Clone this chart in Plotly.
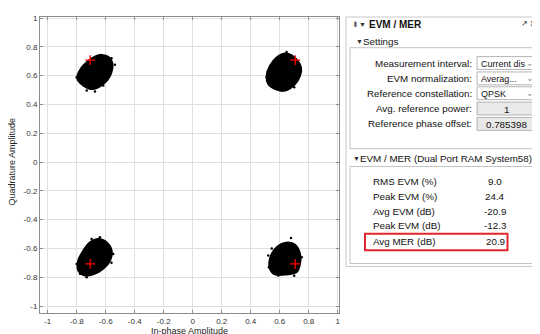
import plotly.graph_objects as go

# ---------------- data ----------------
tick_vals = [-1, -0.8, -0.6, -0.4, -0.2, 0, 0.2, 0.4, 0.6, 0.8, 1]
tick_text = ["-1", "-0.8", "-0.6", "-0.4", "-0.2", "0", "0.2", "0.4", "0.6", "0.8", "1"]

# outlines of the dense symbol clouds (in-phase, quadrature)
tl_i = [-0.628, -0.575, -0.554, -0.570, -0.617, -0.686, -0.754, -0.796, -0.766, -0.720, -0.674]
tl_q = [0.744, 0.725, 0.686, 0.599, 0.542, 0.507, 0.531, 0.581, 0.656, 0.702, 0.732]
tr_i = [0.634, 0.683, 0.724, 0.747, 0.740, 0.706, 0.637, 0.579, 0.521, 0.510, 0.533, 0.579]
tr_q = [0.753, 0.741, 0.702, 0.656, 0.599, 0.542, 0.496, 0.503, 0.542, 0.599, 0.668, 0.725]
bl_i = [-0.651, -0.593, -0.559, -0.570, -0.617, -0.686, -0.743, -0.789, -0.789, -0.754, -0.708]
bl_q = [-0.535, -0.558, -0.615, -0.684, -0.741, -0.780, -0.787, -0.753, -0.684, -0.615, -0.558]
br_i = [0.659, 0.706, 0.740, 0.740, 0.717, 0.648, 0.568, 0.533, 0.533, 0.568, 0.614]
br_q = [-0.558, -0.574, -0.638, -0.707, -0.764, -0.780, -0.780, -0.741, -0.672, -0.603, -0.569]

# stray symbols around the clouds
stray_i = [-0.536, -0.800, -0.731, -0.674, -0.777, -0.617, -0.560, -0.700,
           0.510, 0.533, 0.747, 0.648, 0.614, 0.520, 0.700,
           -0.800, -0.697, -0.548, -0.731, -0.777, -0.640, -0.560,
           0.678, 0.521, 0.752, 0.526, 0.590, 0.545, 0.700]
stray_q = [0.675, 0.588, 0.496, 0.489, 0.558, 0.531, 0.720, 0.515,
           0.588, 0.535, 0.634, 0.764, 0.496, 0.630, 0.520,
           -0.707, -0.535, -0.638, -0.799, -0.775, -0.522, -0.700,
           -0.528, -0.649, -0.661, -0.730, -0.787, -0.600, -0.790]

# reference constellation (QPSK, phase offset 0.785398)
ref_i = [-0.707, 0.707, -0.707, 0.707]
ref_q = [0.707, 0.707, -0.707, -0.707]

settings_labels = ["Measurement interval:", "EVM normalization:", "Reference constellation:",
                   "Avg. reference power:", "Reference phase offset:"]
settings_values = ["Current dis", "Averag...", "QPSK", "1", "0.785398"]
settings_kind = ["drop", "drop", "drop", "edit", "edit"]

result_labels = ["RMS EVM (%)", "Peak EVM (%)", "Avg EVM (dB)", "Peak EVM (dB)", "Avg MER (dB)"]
result_values = ["9.0", "24.4", "-20.9", "-12.3", "20.9"]

# ---------------- figure ----------------
OFF = 8                     # page margin around the plot div
W, H = 540 - OFF, 334 - OFF
# plot area, in screen pixels
SL, SR, ST, SB = 40, 339, 14, 313
L, R, T, B = SL - OFF, SR - OFF, ST - OFF, SB - OFF


def px(x):
    return (x - SL) / (SR - SL)


def py(y):
    return (SB - y) / (SB - ST)


fig = go.Figure()
for ci, cq in [(tl_i, tl_q), (tr_i, tr_q), (bl_i, bl_q), (br_i, br_q)]:
    fig.add_trace(go.Scatter(x=ci + [ci[0]], y=cq + [cq[0]], mode="lines", fill="toself",
                             fillcolor="black", line=dict(color="black", width=2),
                             line_shape="spline", hoverinfo="skip", showlegend=False))
fig.add_trace(go.Scatter(x=stray_i, y=stray_q, mode="markers",
                         marker=dict(color="black", size=2.5), showlegend=False))
fig.add_trace(go.Scatter(x=ref_i, y=ref_q, mode="markers",
                         marker=dict(symbol="cross-thin", size=7, line=dict(color="red", width=1.3)),
                         showlegend=False))

axis_common = dict(tickvals=tick_vals, ticktext=tick_text, showgrid=True, gridcolor="#e0e0e0",
                   gridwidth=1, zeroline=False, showline=True, linecolor="#8c8c8c", linewidth=1,
                   mirror="ticks", ticks="inside", ticklen=3, tickcolor="#8c8c8c",
                   tickfont=dict(family="Liberation Sans, Arial", size=8, color="#333333"))
fig.update_xaxes(range=[-1.053, 1.009], **axis_common)
fig.update_yaxes(range=[-1.048, 1.007], **axis_common)

shapes = []
ann = []
FONT = "Liberation Sans, Arial"
FS = 9.8


def rect(x0, y0, x1, y1, line="#c4c4c4", fill="rgba(0,0,0,0)", width=1):
    shapes.append(dict(type="rect", xref="paper", yref="paper", x0=px(x0), x1=px(x1),
                       y0=py(y1), y1=py(y0), line=dict(color=line, width=width), fillcolor=fill,
                       layer="above"))


def text(x, y, s, size=FS, anchor="left", color="#111111", bold=False, angle=0, family=FONT):
    ann.append(dict(xref="paper", yref="paper", x=px(x), y=py(y), text=("<b>%s</b>" % s) if bold else s,
                    showarrow=False, xanchor=anchor, yanchor="middle", textangle=angle,
                    font=dict(family=family, size=size, color=color)))


# axis titles
text(189, 331, "In-phase Amplitude", size=9, anchor="center", color="#262626")
text(12, 160, "Quadrature Amplitude", size=9, anchor="center", color="#262626", angle=-90)

# panel
rect(346, 14, 560, 266, line="#c8c8c8", fill="white")
text(350, 22, "⇟", size=8, color="#333")
text(357, 22, "▼", size=7, color="#333")
text(367, 22, "EVM / MER", size=10, bold=True)
text(537, 21, "↗ x", size=8, anchor="right", color="#333", family="DejaVu Sans")
text(354, 38.5, "▼", size=7, color="#333")
text(361, 38.5, "Settings", size=FS)

rect(350, 45, 538, 147, line="#c4c4c4")
rows = [60.5, 76, 91, 106.5, 122]
for lab, val, kind, yy in zip(settings_labels, settings_values, settings_kind, rows):
    text(473.5, yy, lab, anchor="right")
    if kind == "drop":
        rect(477, yy - 6.5, 536, yy + 6.5, line="#b4b4b4", fill="white")
        text(479, yy + 0.5, val, size=9)
        text(530, yy, "⌄", size=9, anchor="center", color="#8a8a8a", family="DejaVu Sans")
    else:
        rect(477, yy - 6.5, 536, yy + 6.5, line="#b4b4b4", fill="#e9e9e9")
        text(506.5, yy + 0.5, val, anchor="center")

text(351, 157, "▼", size=7, color="#333")
text(358, 157, "EVM / MER (Dual Port RAM System58)", size=FS)
rect(350, 165, 538, 263, line="#c4c4c4")
rrows = [180, 195, 210, 225, 240.5]
for lab, val, yy in zip(result_labels, result_values, rrows):
    text(371, yy, lab)
    text(495, yy, val, anchor="center")
rect(365, 233, 507.5, 249.5, line="#e3262b", width=2)

fig.update_layout(width=W, height=H, autosize=False, margin=dict(l=L, r=W - R, t=T, b=H - B),
                  plot_bgcolor="white", paper_bgcolor="white", shapes=shapes, annotations=ann,
                  showlegend=False)
fig.write_html("out.html")
